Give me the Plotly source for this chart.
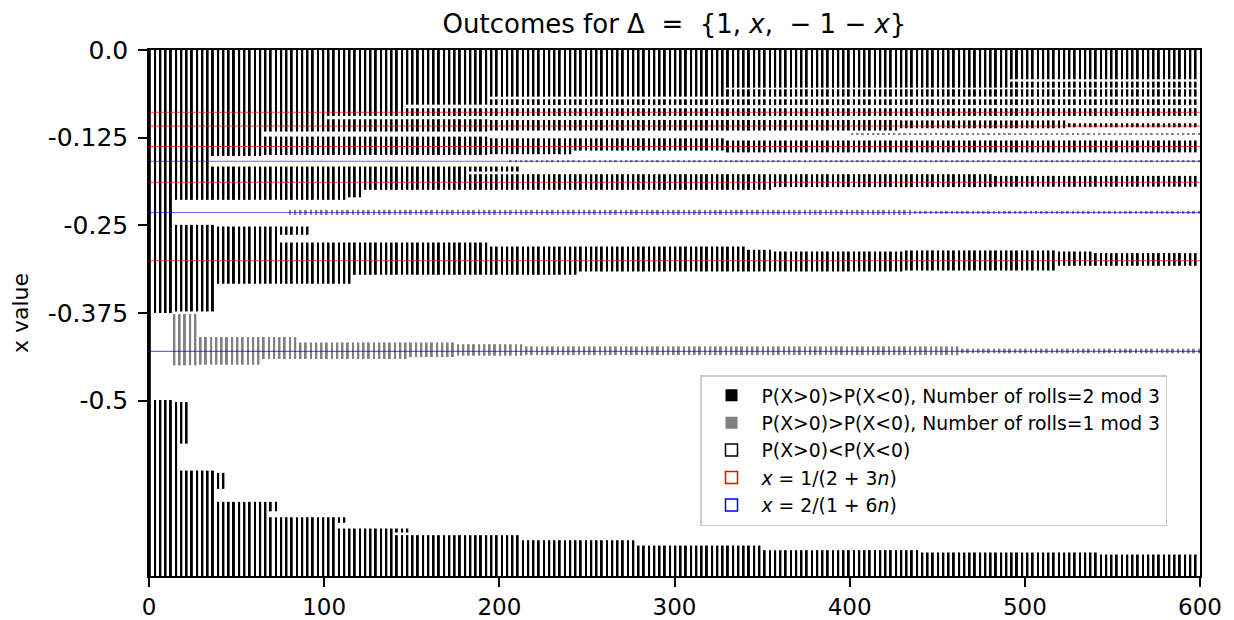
import plotly.graph_objects as go

# ---------------- data ----------------
# x axis: number of rolls (0..600); y axis: displayed x value
X_MIN, X_MAX = 0, 600
Y_MIN, Y_MAX = -0.75, 0.0

y_tick_vals = [0.0, -0.125, -0.25, -0.375, -0.5]
y_tick_text = ["0.0", "-0.125", "-0.25", "-0.375", "-0.5"]
x_tick_vals = [0, 100, 200, 300, 400, 500, 600]

# Black columns (n = 0 mod 3): bands of columns [n_start..n_end] covering [top, bottom]
black_n_start = [0, 3, 3, 15, 15, 15, 36, 36, 39, 66, 66, 75, 75, 102, 102, 102, 114, 117, 123,
                 147, 147, 183, 183, 195, 195, 195, 195, 195, 195, 243, 246, 330, 330, 330, 342,
                 357, 357, 429, 432, 483, 492, 492, 519, 525, 540,
                 18, 18, 39, 39, 69, 69, 108, 108, 141, 141, 213, 279, 351, 441, 543]
black_n_end = [0, 12, 12, 33, 36, 15, 63, 111, 72, 99, 99, 90, 114, 144, 192, 192, 120, 192, 180,
               192, 192, 210, 354, 327, 600, 600, 426, 240, 243, 327, 339, 489, 600, 600, 354,
               480, 429, 522, 516, 600, 600, 600, 537, 600, 600,
               21, 36, 42, 66, 72, 105, 111, 138, 147, 210, 276, 348, 438, 540, 600]
black_top = [0.0, 0.0, -0.499, 0.0, -0.2493, -0.502, 0.0, -0.1662, -0.2517, 0.0, -0.1235, -0.2517,
             -0.2745, 0.0, -0.0987, -0.1235, -0.1662, -0.2745, -0.1662,
             0.0, -0.0831, -0.1662, -0.1771, 0.0, -0.0703, -0.0831, -0.0997, -0.1259, -0.2802,
             -0.1259, -0.2802, 0.0, -0.0560, -0.1290, -0.2849,
             -0.1771, -0.2873, -0.1004, -0.2858, -0.1795, 0.0, -0.0451, -0.2873, -0.1045, -0.2896,
             -0.502, -0.5997, -0.6030, -0.6443, -0.6443, -0.6662, -0.6662, -0.6823, -0.6823,
             -0.6918, -0.6990, -0.7066, -0.7132, -0.7165, -0.7194]
black_bottom = [-0.75, -0.375, -0.75, -0.2137, -0.3728, -0.75, -0.151, -0.2137, -0.3333, -0.1163,
                -0.1496, -0.2635, -0.3333, -0.094, -0.1163, -0.1496, -0.2100, -0.3205, -0.1994,
                -0.078, -0.094, -0.1733, -0.1994, -0.0665, -0.0783, -0.094, -0.1149, -0.1486,
                -0.3205, -0.1434, -0.3158, -0.0537, -0.0665, -0.1460, -0.3158,
                -0.1955, -0.3158, -0.1116, -0.3144, -0.1950, -0.0418, -0.0537, -0.3077, -0.1102,
                -0.3077,
                -0.5613, -0.75, -0.6258, -0.75, -0.6577, -0.75, -0.6742, -0.75, -0.6880,
                -0.75, -0.75, -0.75, -0.75, -0.75, -0.75]

# Gray columns (n = 2 mod 3)
gray_n_start = [14, 29, 65, 86, 149, 176, 215, 464, 80, 437, 206, 401]
gray_n_end = [26, 62, 83, 146, 173, 212, 461, 600, 434, 600, 600, 600]
gray_top = [-0.3765, -0.4093, -0.4093, -0.4170, -0.4170, -0.4195, -0.4226, -0.4259,
            -0.2279, -0.2293, -0.1570, -0.1188]
gray_bottom = [-0.4497, -0.4487, -0.4406, -0.4406, -0.4378, -0.4359, -0.4350, -0.4325,
               -0.2350, -0.2336, -0.1600, -0.1207]

# Reference lines
red_levels = [-0.0888, -0.1083, -0.1377, -0.1885, -0.3006]    # x = 1/(2+3n)
blue_levels = [-0.1586, -0.2317, -0.4297]                     # x = 2/(1+6n)

# ---------------- build ----------------
def columns(starts, ends, tops, bottoms, residue):
    xs, hs, bs = [], [], []
    for s, e, t, b in zip(starts, ends, tops, bottoms):
        for n in range(s, e + 1):
            if n % 3 == residue and n < X_MAX:
                xs.append(n + 0.5)
                hs.append(t - b)
                bs.append(b)
    return xs, hs, bs

bx, bh, bb = columns(black_n_start, black_n_end, black_top, black_bottom, 0)
gx, gh, gb = columns(gray_n_start, gray_n_end, gray_top, gray_bottom, 2)

def hlines(levels):
    xs, ys = [], []
    for lv in levels:
        xs += [X_MIN, X_MAX, None]
        ys += [lv, lv, None]
    return xs, ys

fig = go.Figure()
fig.add_trace(go.Bar(x=bx, y=bh, base=bb, width=1.1, marker=dict(color="black", line=dict(width=0)),
                     name="P(X>0)>P(X<0), Number of rolls=2 mod 3", hoverinfo="skip"))
fig.add_trace(go.Bar(x=gx, y=gh, base=gb, width=1.1, marker=dict(color="#808080", line=dict(width=0)),
                     name="P(X>0)>P(X<0), Number of rolls=1 mod 3", hoverinfo="skip"))
fig.add_trace(go.Bar(x=[None], y=[None], marker=dict(color="white", line=dict(color="black", width=1.5)),
                     name="P(X>0)<P(X<0)"))
fig.add_trace(go.Bar(x=[None], y=[None], marker=dict(color="white", line=dict(color="red", width=1.5)),
                     name="<i>x</i> = 1/(2 + 3<i>n</i>)"))
fig.add_trace(go.Bar(x=[None], y=[None], marker=dict(color="white", line=dict(color="blue", width=1.5)),
                     name="<i>x</i> = 2/(1 + 6<i>n</i>)"))

rx, ry = hlines(red_levels)
fig.add_trace(go.Scatter(x=rx, y=ry, mode="lines", line=dict(color="rgba(255,0,0,0.7)", width=1.1),
                         showlegend=False, hoverinfo="skip"))
ux, uy = hlines(blue_levels)
fig.add_trace(go.Scatter(x=ux, y=uy, mode="lines", line=dict(color="rgba(0,0,255,0.6)", width=1.1),
                         showlegend=False, hoverinfo="skip"))

NB = "\u00a0"
NB2 = NB + NB
title_text = ("Outcomes for Δ" + NB2 + "=" + NB2 + "{1," + NB + "<i>x</i>," + NB2 + "−" + NB + "1"
              + NB + "−" + NB + "<i>x</i>}")

W, H = 1226, 612
fig.update_layout(
    template="none",
    width=W, height=H,
    margin=dict(l=141, r=34, t=42, b=44, pad=0),
    plot_bgcolor="white", paper_bgcolor="white",
    barmode="overlay",
    font=dict(family="DejaVu Sans", color="black"),
    title=dict(text=title_text, x=0.5, xref="paper",
               y=1 - 16 / H, yref="container", yanchor="middle", xanchor="center",
               font=dict(size=26)),
    legend=dict(x=(1159 - 141) / (W - 141 - 34), y=(568 - 367) / (H - 42 - 44),
                xanchor="right", yanchor="top",
                bgcolor="white", bordercolor="#cccccc", borderwidth=1.5,
                font=dict(size=18.8), traceorder="normal", itemwidth=50,
                tracegroupgap=0),
    showlegend=True,
)
fig.update_xaxes(range=[X_MIN, X_MAX], tickvals=x_tick_vals, ticks="outside", ticklen=9,
                 tickwidth=1.5, tickcolor="black", showline=True, linecolor="black",
                 linewidth=1.5, mirror=True, showgrid=False, zeroline=False,
                 tickfont=dict(size=23), ticklabelstandoff=1, automargin=False)
fig.update_yaxes(range=[Y_MIN, Y_MAX], tickvals=y_tick_vals, ticktext=y_tick_text,
                 ticks="outside", ticklen=9, tickwidth=1.5, tickcolor="black",
                 showline=True, linecolor="black", linewidth=1.5, mirror=True,
                 showgrid=False, zeroline=False, tickfont=dict(size=25),
                 ticklabelstandoff=5, automargin=False,
                 title=dict(text="x value", font=dict(size=22), standoff=16))

fig.write_html("out.html")
